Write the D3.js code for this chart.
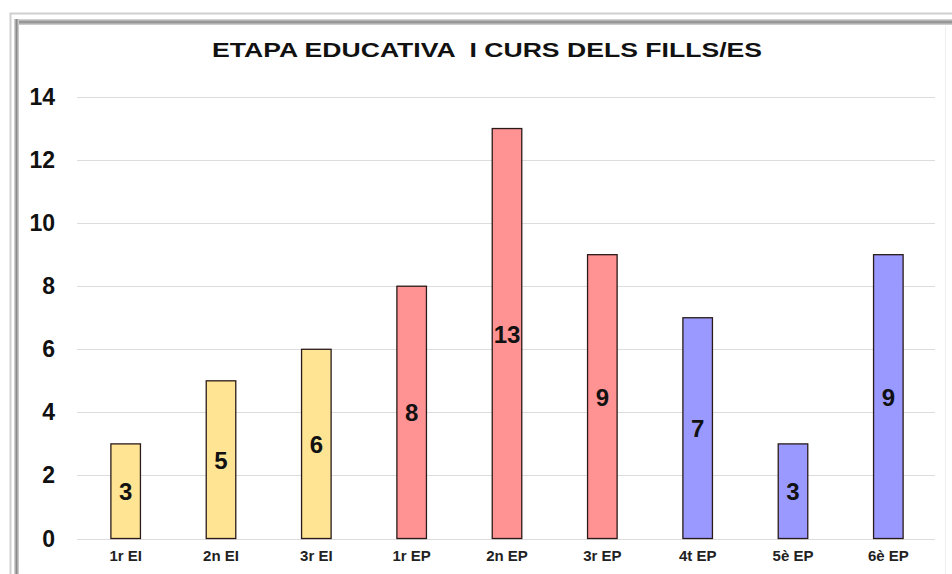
<!DOCTYPE html>
<html>
<head>
<meta charset="utf-8">
<script src="https://cdn.jsdelivr.net/npm/d3@7"></script>
<style>
  body { margin: 0; background: #fff; }
  text { font-family: Arial, "Liberation Sans", sans-serif; font-weight: bold; }
</style>
</head>
<body>
<script>
var categories = [ "1r EI", "2n EI", "3r EI", "1r EP", "2n EP", "3r EP", "4t EP", "5è EP", "6è EP" ];
var values = [ 3, 5, 6, 8, 13, 9, 7, 3, 9 ];
var stages = [ "EI", "EI", "EI", "EP", "EP", "EP", "EP2", "EP2", "EP2" ];
var yTicks = [ 0, 2, 4, 6, 8, 10, 12, 14 ];

var colors = { EI: "#ffe493", EP: "#ff9393", EP2: "#9999ff" };

var svg = d3.select( "body" ).append( "svg" )
  .attr( "width", 952 )
  .attr( "height", 574 );

// frame
var defs = svg.append( "defs" );
var gTop = defs.append( "linearGradient" ).attr( "id", "gTop" )
  .attr( "x1", 0 ).attr( "y1", 0 ).attr( "x2", 0 ).attr( "y2", 1 );
gTop.append( "stop" ).attr( "offset", "0%" ).attr( "stop-color", "#e0e0e0" );
gTop.append( "stop" ).attr( "offset", "50%" ).attr( "stop-color", "#8a8a8a" );
gTop.append( "stop" ).attr( "offset", "100%" ).attr( "stop-color", "#d8d8d8" );
var gLeft = defs.append( "linearGradient" ).attr( "id", "gLeft" )
  .attr( "x1", 0 ).attr( "y1", 0 ).attr( "x2", 1 ).attr( "y2", 0 );
gLeft.append( "stop" ).attr( "offset", "0%" ).attr( "stop-color", "#e0e0e0" );
gLeft.append( "stop" ).attr( "offset", "50%" ).attr( "stop-color", "#8a8a8a" );
gLeft.append( "stop" ).attr( "offset", "100%" ).attr( "stop-color", "#d8d8d8" );

svg.append( "rect" )
  .attr( "x", 10.5 ).attr( "y", 13.5 )
  .attr( "width", 950 ).attr( "height", 570 )
  .attr( "fill", "none" )
  .attr( "stroke", "#cfcfcf" )
  .attr( "stroke-width", 2 );
svg.append( "rect" )
  .attr( "x", 14 ).attr( "y", 19 ).attr( "width", 940 ).attr( "height", 6 )
  .attr( "fill", "url(#gTop)" );
svg.append( "rect" )
  .attr( "x", 14 ).attr( "y", 19 ).attr( "width", 5 ).attr( "height", 555 )
  .attr( "fill", "url(#gLeft)" );
svg.append( "line" )
  .attr( "x1", 945.5 ).attr( "x2", 945.5 )
  .attr( "y1", 26 ).attr( "y2", 574 )
  .attr( "stroke", "#eeeeee" );

// title
svg.append( "text" )
  .attr( "x", 487 ).attr( "y", 57 )
  .attr( "text-anchor", "middle" )
  .attr( "font-size", 21 )
  .attr( "textLength", 550 )
  .attr( "lengthAdjust", "spacingAndGlyphs" )
  .attr( "xml:space", "preserve" )
  .attr( "fill", "#111" )
  .text( "ETAPA EDUCATIVA  I CURS DELS FILLS/ES" );

var x = d3.scaleBand()
  .domain( categories )
  .range( [ 78, 936 ] )
  .paddingInner( 0.69 )
  .paddingOuter( 0.345 );

var y = d3.scaleLinear()
  .domain( [ 0, 14 ] )
  .range( [ 538.5, 97 ] );

// grid
svg.selectAll( "line.grid" )
  .data( yTicks )
  .enter().append( "line" )
  .attr( "class", "grid" )
  .attr( "x1", 77 ).attr( "x2", 935 )
  .attr( "y1", function ( d ) { return Math.round( y( d ) ) + 0.5; } )
  .attr( "y2", function ( d ) { return Math.round( y( d ) ) + 0.5; } )
  .attr( "stroke", "#dcdcdc" );

// y labels
svg.selectAll( "text.ytick" )
  .data( yTicks )
  .enter().append( "text" )
  .attr( "class", "ytick" )
  .attr( "x", 55 )
  .attr( "y", function ( d ) { return y( d ) + 8; } )
  .attr( "text-anchor", "end" )
  .attr( "font-size", 23 )
  .attr( "fill", "#111" )
  .text( function ( d ) { return d; } );

// bars
svg.selectAll( "rect.bar" )
  .data( values )
  .enter().append( "rect" )
  .attr( "class", "bar" )
  .attr( "x", function ( d, i ) { return x( categories[ i ] ); } )
  .attr( "y", function ( d ) { return y( d ); } )
  .attr( "width", x.bandwidth() )
  .attr( "height", function ( d ) { return y( 0 ) - y( d ); } )
  .attr( "fill", function ( d, i ) { return colors[ stages[ i ] ]; } )
  .attr( "stroke", "#2a1a1a" )
  .attr( "stroke-width", 1.3 );

// value labels
svg.selectAll( "text.val" )
  .data( values )
  .enter().append( "text" )
  .attr( "class", "val" )
  .attr( "x", function ( d, i ) { return x( categories[ i ] ) + x.bandwidth() / 2; } )
  .attr( "y", function ( d ) { return ( y( d ) + y( 0 ) ) / 2 + 9; } )
  .attr( "text-anchor", "middle" )
  .attr( "font-size", 24 )
  .attr( "fill", "#111" )
  .text( function ( d ) { return d; } );

// x labels
svg.selectAll( "text.xl" )
  .data( categories )
  .enter().append( "text" )
  .attr( "class", "xl" )
  .attr( "x", function ( d ) { return x( d ) + x.bandwidth() / 2; } )
  .attr( "y", 561 )
  .attr( "text-anchor", "middle" )
  .attr( "font-size", 15 )
  .attr( "fill", "#222" )
  .text( function ( d ) { return d; } );
</script>
</body>
</html>
